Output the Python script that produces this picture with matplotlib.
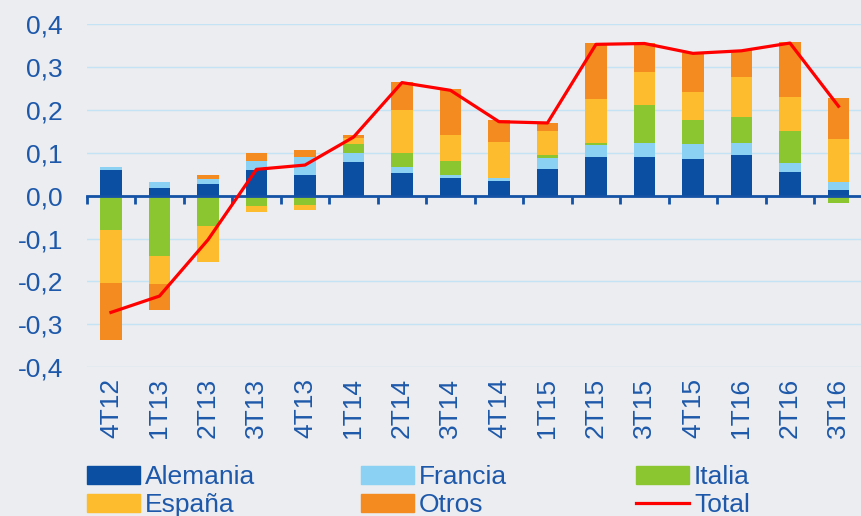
import matplotlib
matplotlib.use("Agg")
import matplotlib.pyplot as plt
from matplotlib.patches import Patch
from matplotlib.lines import Line2D
from matplotlib.ticker import FuncFormatter
import numpy as np

cats = ['4T12', '1T13', '2T13', '3T13', '4T13', '1T14', '2T14', '3T14',
        '4T14', '1T15', '2T15', '3T15', '4T15', '1T16', '2T16', '3T16']
alemania = [0.059, 0.018, 0.026, 0.059, 0.048, 0.077, 0.052, 0.042,
            0.034, 0.062, 0.090, 0.090, 0.085, 0.095, 0.056, 0.012]
francia = [0.007, 0.014, 0.012, 0.021, 0.041, 0.022, 0.015, 0.006,
           0.008, 0.025, 0.027, 0.033, 0.035, 0.028, 0.020, 0.019]
italia = [-0.079, -0.141, -0.070, -0.024, -0.022, 0.022, 0.033, 0.033,
          -0.003, 0.007, 0.006, 0.087, 0.056, 0.060, 0.075, -0.018]
espana = [-0.125, -0.065, -0.084, -0.015, -0.012, 0.013, 0.100, 0.060,
          0.083, 0.057, 0.101, 0.078, 0.065, 0.093, 0.079, 0.100]
otros = [-0.132, -0.060, 0.011, 0.019, 0.017, 0.007, 0.065, 0.106,
         0.051, 0.019, 0.131, 0.067, 0.091, 0.062, 0.127, 0.097]
total = [-0.272, -0.234, -0.103, 0.061, 0.071, 0.136, 0.263, 0.245,
         0.172, 0.169, 0.352, 0.354, 0.331, 0.337, 0.355, 0.208]

series = [("Alemania", alemania, "#0b4fa3"),
          ("Francia", francia, "#8ad1f3"),
          ("Italia", italia, "#8bc52f"),
          ("España", espana, "#fdbc2e"),
          ("Otros", otros, "#f48b20")]

bg = "#ebedf0"
txt = "#1d58aa"
plt.rcParams['font.family'] = ['Liberation Sans', 'DejaVu Sans']
fs = 19

fig = plt.figure(figsize=(8.61, 5.16), dpi=100, facecolor=bg)
ax = fig.add_axes([0.1007, 0.288, 0.9013, 0.666])
ax.set_facecolor(bg)

x = np.arange(len(cats))
pos_base = np.zeros(len(cats))
neg_base = np.zeros(len(cats))
for name, vals, col in series:
    v = np.array(vals)
    bottom = np.where(v >= 0, pos_base, neg_base)
    ax.bar(x, v, 0.45, bottom=bottom, color=col, zorder=2)
    pos_base += np.where(v >= 0, v, 0)
    neg_base += np.where(v < 0, v, 0)

ax.plot(x, total, color="#ff0000", lw=2.3, zorder=4)

ax.set_xlim(-0.5, len(cats) - 0.5)
ax.set_ylim(-0.4, 0.4)
ax.set_yticks(np.arange(-0.4, 0.41, 0.1))
ax.yaxis.set_major_formatter(FuncFormatter(lambda v, p: ("%.1f" % v).replace(".", ",").replace("-0,0", "0,0")))
ax.grid(axis="y", color="#c4e4f6", lw=1, zorder=0)
ax.set_axisbelow(True)

for s in ["top", "right", "left"]:
    ax.spines[s].set_visible(False)
ax.spines["bottom"].set_position(("data", 0))
ax.spines["bottom"].set_color("#1452a6")
ax.spines["bottom"].set_linewidth(2)
ax.spines["bottom"].set_zorder(3)

ax.set_xticks(x)
ax.set_xticklabels(cats, rotation=90, fontsize=fs, color=txt)
ax.set_xticks(np.arange(-0.5, len(cats), 1), minor=True)
ax.tick_params(axis="x", which="major", length=0, pad=131)
ax.tick_params(axis="x", which="minor", length=6, width=2, color="#1452a6", direction="out")
ax.tick_params(axis="y", length=0, pad=17, labelsize=fs, labelcolor=txt)

handles = [Patch(color=c) for _, _, c in series] + [Line2D([], [], color="#ff0000", lw=2.3)]
labels = [n for n, _, _ in series] + ["Total"]
cols = [(0, 3), (1, 4), (2, 5)]
xs = [87, 361, 636]
for (i, j), xp in zip(cols, xs):
    fig.legend([handles[i], handles[j]], [labels[i], labels[j]],
               loc="upper left", bbox_to_anchor=(xp / 861, 1 - 465 / 516),
               frameon=False, fontsize=fs, labelcolor=txt, borderpad=0,
               borderaxespad=0, handlelength=2.0, handletextpad=0.2,
               labelspacing=0.17, handleheight=0.65)

fig.savefig("out.png", dpi=100, facecolor=bg)
